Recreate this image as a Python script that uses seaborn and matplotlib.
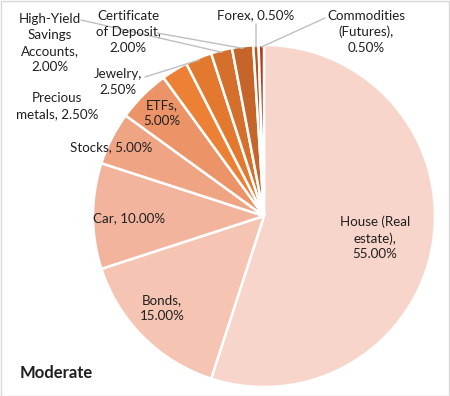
import matplotlib

matplotlib.use("Agg")
import matplotlib.pyplot as plt
import numpy as np
import seaborn as sns
from matplotlib.patches import Rectangle

# Data
categories = [
    "House (Real\nestate)",
    "Bonds",
    "Car",
    "Stocks",
    "ETFs",
    "Precious\nmetals",
    "Jewelry",
    "High-Yield\nSavings\nAccounts",
    "Certificate\nof Deposit",
    "Forex",
    "Commodities\n(Futures)",
]
shares = [55.0, 15.0, 10.0, 5.0, 5.0, 2.5, 2.5, 2.0, 2.0, 0.5, 0.5]
slice_colors = [
    "#F8D5CB", "#F5C4B2", "#F2B49C", "#EFA584", "#EC9468", "#EC8034",
    "#E2792F", "#D5702C", "#C6652A", "#B5521E", "#B8371A",
]
title = "Moderate"

# label text: how the category and percent are joined
label_texts = [
    "House (Real\nestate),\n55.00%",
    "Bonds,\n15.00%",
    "Car, 10.00%",
    "Stocks, 5.00%",
    "ETFs,\n5.00%",
    "Precious\nmetals, 2.50%",
    "Jewelry,\n2.50%",
    "High-Yield\nSavings\nAccounts,\n2.00%",
    "Certificate\nof Deposit,\n2.00%",
    "Forex, 0.50%",
    "Commodities\n(Futures),\n0.50%",
]

# layout (pixel coords, origin top-left)
W, H = 450, 396
CX, CY, R = 264, 216, 171
label_pos = [
    (375, 238), (162, 308), (129, 218), (111, 147), (162, 113),
    (57, 106), (118, 82), (50, 43), (128, 32), (256, 15), (366, 32),
]
# leader line start points (None = no leader)
leader_start = [
    None, None, None, None, None, None,
    (145, 77), (81, 20), (157, 33), (256, 24), (325, 18),
]

sns.set_style("white")
plt.rcParams["font.family"] = ["Lato", "DejaVu Sans"]

fig = plt.figure(figsize=(W / 100, H / 100), dpi=100)
ax = fig.add_axes([0, 0, 1, 1])

wedges, _ = ax.pie(
    shares,
    colors=slice_colors,
    startangle=90,
    counterclock=False,
    center=(CX, H - CY),
    radius=R,
    wedgeprops={"edgecolor": "white", "linewidth": 1.8},
    frame=True,
)
ax.set_xlim(0, W)
ax.set_ylim(0, H)
ax.set_aspect("equal")
ax.axis("off")

for w, txt, (lx, ly), ls in zip(wedges, label_texts, label_pos, leader_start):
    ax.text(lx, H - ly, txt, ha="center", va="center", fontsize=9.6,
            color="#1F1F1F", linespacing=1.38)
    if ls is not None:
        mid = np.deg2rad((w.theta1 + w.theta2) / 2)
        ex = CX + (R - 2) * np.cos(mid)
        ey = (H - CY) + (R - 2) * np.sin(mid)
        ax.plot([ls[0], ex], [H - ls[1], ey], color="#BFBFBF", lw=1.0)

ax.text(20, H - 373, title, ha="left", va="center", fontsize=12,
        fontweight="bold", color="#1F1F1F")

fig.patches.append(Rectangle((0.5 / W, 0.5 / H), 1 - 1.5 / W, 1 - 1.5 / H,
                             transform=fig.transFigure, fill=False,
                             edgecolor="#D9D9D9", linewidth=1.0))

fig.savefig("out.png", dpi=100)
